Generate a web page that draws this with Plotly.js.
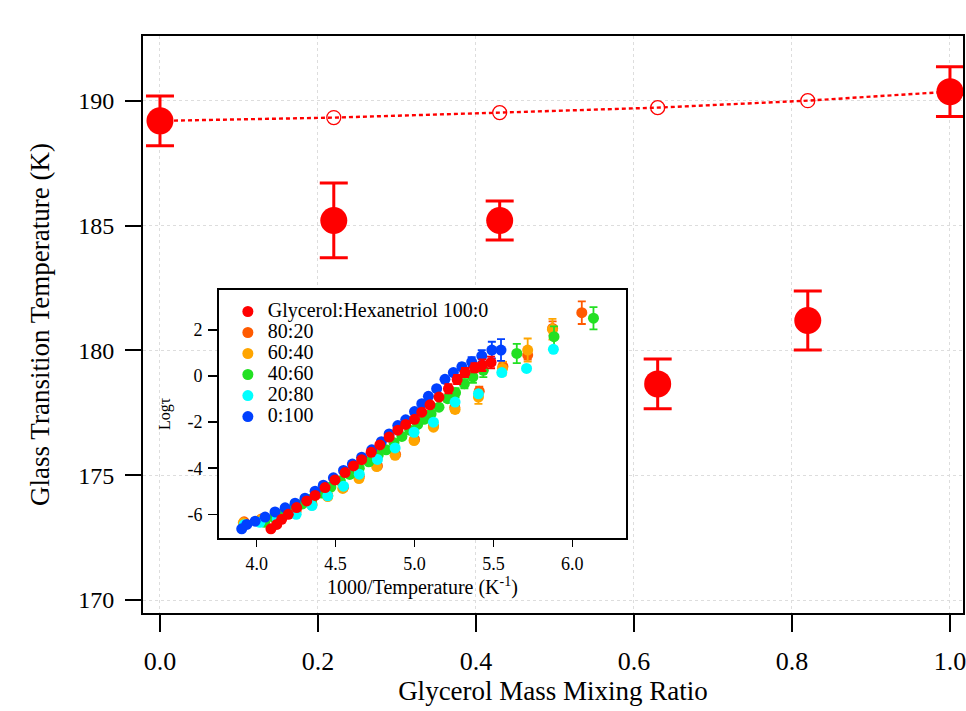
<!DOCTYPE html>
<html><head><meta charset="utf-8">
<script src="https://cdn.plot.ly/plotly-3.0.1.min.js"></script>
<style>html,body{margin:0;padding:0;background:#fff}#chart{width:966px;height:711px}</style>
</head><body><div id="chart"></div>
<script>
// ---- main chart data ----
const mixRatio = [0.0, 0.22, 0.43, 0.63, 0.82, 1.0];
const tgMeasured = [189.2, 185.21, 185.21, 178.66, 181.2, 190.37];
const tgError = [1.0, 1.5, 0.78, 1.0, 1.18, 1.0];
const tgIdeal = [189.2, 189.33, 189.53, 189.73, 190.01, 190.37];
const mainXTicks = [0.0, 0.2, 0.4, 0.6, 0.8, 1.0];
const mainXTickText = ['0.0', '0.2', '0.4', '0.6', '0.8', '1.0'];
const mainYTicks = [170, 175, 180, 185, 190];

// ---- inset data: 1000/T vs log tau ----
const seriesNames = ['Glycerol:Hexanetriol 100:0', '80:20', '60:40', '40:60', '20:80', '0:100'];
const seriesColors = ['#ff0000', '#ff5a00', '#ffa500', '#22e022', '#00ffff', '#0040ff'];

const x_100_0 = [4.09, 4.127, 4.158, 4.20, 4.253, 4.317, 4.37, 4.433, 4.496, 4.56, 4.613, 4.665, 4.725, 4.78, 4.839, 4.894, 4.944, 5.0, 5.046, 5.098, 5.155, 5.215, 5.27, 5.32, 5.38, 5.43, 5.485];
const y_100_0 = [-6.63, -6.44, -6.22, -6.0, -5.71, -5.42, -5.18, -4.84, -4.51, -4.19, -3.9, -3.63, -3.31, -2.99, -2.65, -2.35, -2.1, -1.88, -1.57, -1.25, -0.91, -0.55, -0.15, 0.15, 0.36, 0.47, 0.59];
const e_100_0 = [0, 0, 0, 0, 0, 0, 0, 0, 0, 0, 0, 0, 0, 0, 0, 0, 0, 0, 0, 0, 0, 0.2, 0.2, 0.2, 0.2, 0.25, 0.25];

const x_80_20 = [3.92, 4.03, 4.14, 4.25, 4.35, 4.45, 4.55, 4.65, 4.765, 4.88, 5.0, 5.12, 5.255, 5.41, 5.56, 5.717, 5.875, 6.06];
const y_80_20 = [-6.33, -6.2, -6.05, -5.85, -5.55, -5.18, -4.83, -4.36, -3.9, -3.4, -2.75, -2.17, -1.36, -0.66, 0.42, 0.91, 2.07, 2.75];
const e_80_20 = [0, 0, 0, 0, 0, 0, 0, 0, 0, 0, 0, 0, 0, 0.2, 0.2, 0.2, 0.3, 0.49];

const x_60_40 = [3.915, 4.02, 4.13, 4.24, 4.349, 4.45, 4.545, 4.648, 4.76, 4.877, 4.997, 5.12, 5.257, 5.405, 5.557, 5.717, 5.874];
const y_60_40 = [-6.37, -6.25, -6.1, -5.88, -5.6, -5.23, -4.88, -4.45, -3.93, -3.44, -2.8, -2.22, -1.45, -0.91, 0.33, 1.13, 2.03];
const e_60_40 = [0, 0, 0, 0, 0, 0, 0, 0, 0, 0, 0, 0, 0.15, 0.3, 0.3, 0.5, 0.45];

const x_40_60 = [4.05, 4.11, 4.17, 4.23, 4.29, 4.35, 4.41, 4.47, 4.53, 4.59, 4.65, 4.71, 4.77, 4.82, 4.87, 4.92, 4.97, 5.02, 5.06, 5.105, 5.155, 5.21, 5.26, 5.316, 5.37, 5.436, 5.648, 5.884, 6.134];
const y_40_60 = [-6.35, -6.15, -5.95, -5.75, -5.55, -5.33, -5.08, -4.82, -4.55, -4.27, -4.0, -3.72, -3.43, -3.2, -2.9, -2.62, -2.35, -2.1, -1.88, -1.64, -1.35, -0.98, -0.72, -0.33, -0.04, 0.25, 0.98, 1.71, 2.51];
const e_40_60 = [0, 0, 0, 0, 0, 0, 0, 0, 0, 0, 0, 0, 0, 0, 0, 0, 0, 0, 0, 0, 0, 0.15, 0.2, 0.2, 0.25, 0.3, 0.42, 0.45, 0.48];

const x_20_80 = [3.92, 4.02, 4.13, 4.25, 4.35, 4.45, 4.55, 4.65, 4.765, 4.877, 4.997, 5.12, 5.257, 5.405, 5.553, 5.71, 5.88];
const y_20_80 = [-6.45, -6.35, -6.2, -6.0, -5.62, -5.2, -4.78, -4.26, -3.62, -3.12, -2.44, -2.0, -1.13, -0.77, 0.15, 0.33, 1.16];
const e_20_80 = [0, 0, 0, 0, 0, 0, 0, 0, 0, 0, 0, 0, 0, 0, 0, 0, 0];

const x_0_100 = [3.905, 3.937, 3.99, 4.053, 4.116, 4.18, 4.243, 4.306, 4.37, 4.422, 4.486, 4.55, 4.606, 4.665, 4.729, 4.79, 4.839, 4.894, 4.944, 5.0, 5.046, 5.088, 5.14, 5.193, 5.246, 5.30, 5.362, 5.426, 5.49, 5.548];
const y_0_100 = [-6.63, -6.44, -6.30, -6.12, -5.9, -5.72, -5.52, -5.3, -5.0, -4.74, -4.42, -4.1, -3.82, -3.52, -3.2, -2.85, -2.51, -2.15, -1.90, -1.54, -1.20, -0.88, -0.55, -0.14, 0.15, 0.40, 0.62, 0.88, 1.13, 1.13];
const e_0_100 = [0, 0, 0, 0, 0, 0, 0, 0, 0, 0, 0, 0, 0, 0, 0, 0, 0, 0, 0, 0, 0, 0, 0, 0, 0, 0.15, 0.2, 0.25, 0.36, 0.47];

const insetXTicks = [4.0, 4.5, 5.0, 5.5, 6.0];
const insetXTickText = ['4.0', '4.5', '5.0', '5.5', '6.0'];
const insetYTicks = [-6, -4, -2, 0, 2];
const insetYTickText = ['-6', '-4', '-2', '0', '2'];

const FONT = 'Liberation Serif, Times New Roman, serif';

const insetSeries = [
  {x: x_100_0, y: y_100_0, e: e_100_0},
  {x: x_80_20, y: y_80_20, e: e_80_20},
  {x: x_60_40, y: y_60_40, e: e_60_40},
  {x: x_40_60, y: y_40_60, e: e_40_60},
  {x: x_20_80, y: y_20_80, e: e_20_80},
  {x: x_0_100, y: y_0_100, e: e_0_100}
];
// drawing order (bottom -> top)
const drawOrder = [1, 2, 3, 4, 5, 0];

const traces = [];
traces.push({
  x: mixRatio, y: tgIdeal, xaxis: 'x', yaxis: 'y', type: 'scatter', mode: 'lines+markers',
  line: {color: '#ff0000', width: 2.4, dash: '4px,3px'},
  marker: {symbol: 'circle-open', size: 14, color: '#ff0000', line: {width: 1.3}},
  showlegend: false, hoverinfo: 'x+y'
});
traces.push({
  x: mixRatio, y: tgMeasured, xaxis: 'x', yaxis: 'y', type: 'scatter', mode: 'markers',
  marker: {symbol: 'circle', size: 27, color: '#ff0000'},
  error_y: {type: 'data', array: tgError, visible: true, color: '#ff0000', thickness: 3, width: 14},
  showlegend: false
});
drawOrder.forEach(function (i) {
  const s = insetSeries[i];
  traces.push({
    x: s.x, y: s.y, xaxis: 'x2', yaxis: 'y2', type: 'scatter', mode: 'markers',
    name: '<span style="font-family:Liberation Serif,serif;font-size:20px">' + seriesNames[i] + '</span>',
    legendrank: i + 1,
    marker: {symbol: 'circle', size: 11, color: seriesColors[i]},
    error_y: {type: 'data', array: s.e, visible: true, color: seriesColors[i], thickness: 1.8, width: 4}
  });
});

const layout = {
  width: 966, height: 711,
  margin: {l: 143, r: 3, t: 36, b: 98},
  paper_bgcolor: '#ffffff', plot_bgcolor: '#ffffff',
  font: {family: FONT, color: '#000'},
  showlegend: true,
  legend: {
    x: 0.1035, y: 0.5494, xanchor: 'left', yanchor: 'top',
    bgcolor: 'rgba(0,0,0,0)', borderwidth: 0,
    font: {family: FONT, size: 13.85, color: '#000'},
    itemclick: false
  },
  xaxis: {
    domain: [0, 1], range: [-0.0215, 1.0165], anchor: 'y',
    tickvals: mainXTicks, ticktext: mainXTickText,
    ticks: 'outside', ticklen: 17, tickwidth: 2, tickcolor: '#000',
    ticklabelstandoff: 7, ticklabeloverflow: 'allow',
    showline: true, linecolor: '#000', linewidth: 2, mirror: true,
    showgrid: true, gridcolor: '#dddddd', gridwidth: 1, griddash: '3px,3px',
    zeroline: false, tickfont: {family: FONT, size: 26, color: '#000'},
    title: {text: 'Glycerol Mass Mixing Ratio', font: {family: FONT, size: 27, color: '#000'}, standoff: 4}
  },
  yaxis: {
    domain: [0, 1], range: [169.48, 192.6], anchor: 'x',
    tickvals: mainYTicks,
    ticks: 'outside', ticklen: 16, tickwidth: 2, tickcolor: '#000',
    ticklabelstandoff: 6,
    showline: true, linecolor: '#000', linewidth: 2, mirror: true,
    showgrid: true, gridcolor: '#dddddd', gridwidth: 1, griddash: '3px,3px',
    zeroline: false, tickfont: {family: FONT, size: 24, color: '#000'},
    title: {text: 'Glass Transition Temperature (K)', font: {family: FONT, size: 27, color: '#000'}, standoff: 21}
  },
  xaxis2: {
    domain: [0.0927, 0.589], range: [3.761, 6.34], anchor: 'y2',
    tickvals: insetXTicks, ticktext: insetXTickText,
    ticks: 'outside', ticklen: 7, tickwidth: 1.5, tickcolor: '#000',
    ticklabelstandoff: 1,
    showline: true, linecolor: '#000', linewidth: 2, mirror: true,
    showgrid: false, zeroline: false,
    tickfont: {family: FONT, size: 18, color: '#000'},
    title: {text: '1000/Temperature (K<sup>-1</sup>)', font: {family: FONT, size: 20, color: '#000'}, standoff: 3}
  },
  yaxis2: {
    domain: [0.13, 0.5598], range: [-7.03, 3.736], anchor: 'x2',
    tickvals: insetYTicks, ticktext: insetYTickText,
    ticks: 'outside', ticklen: 9, tickwidth: 1.5, tickcolor: '#000',
    ticklabelstandoff: 2,
    showline: true, linecolor: '#000', linewidth: 2, mirror: true,
    showgrid: false, zeroline: false,
    tickfont: {family: FONT, size: 18, color: '#000'},
    title: {text: 'Logτ', font: {family: FONT, size: 16, color: '#000'}, standoff: 13}
  }
};

Plotly.newPlot('chart', traces, layout, {displayModeBar: false, staticPlot: true});
</script>
</body></html>
